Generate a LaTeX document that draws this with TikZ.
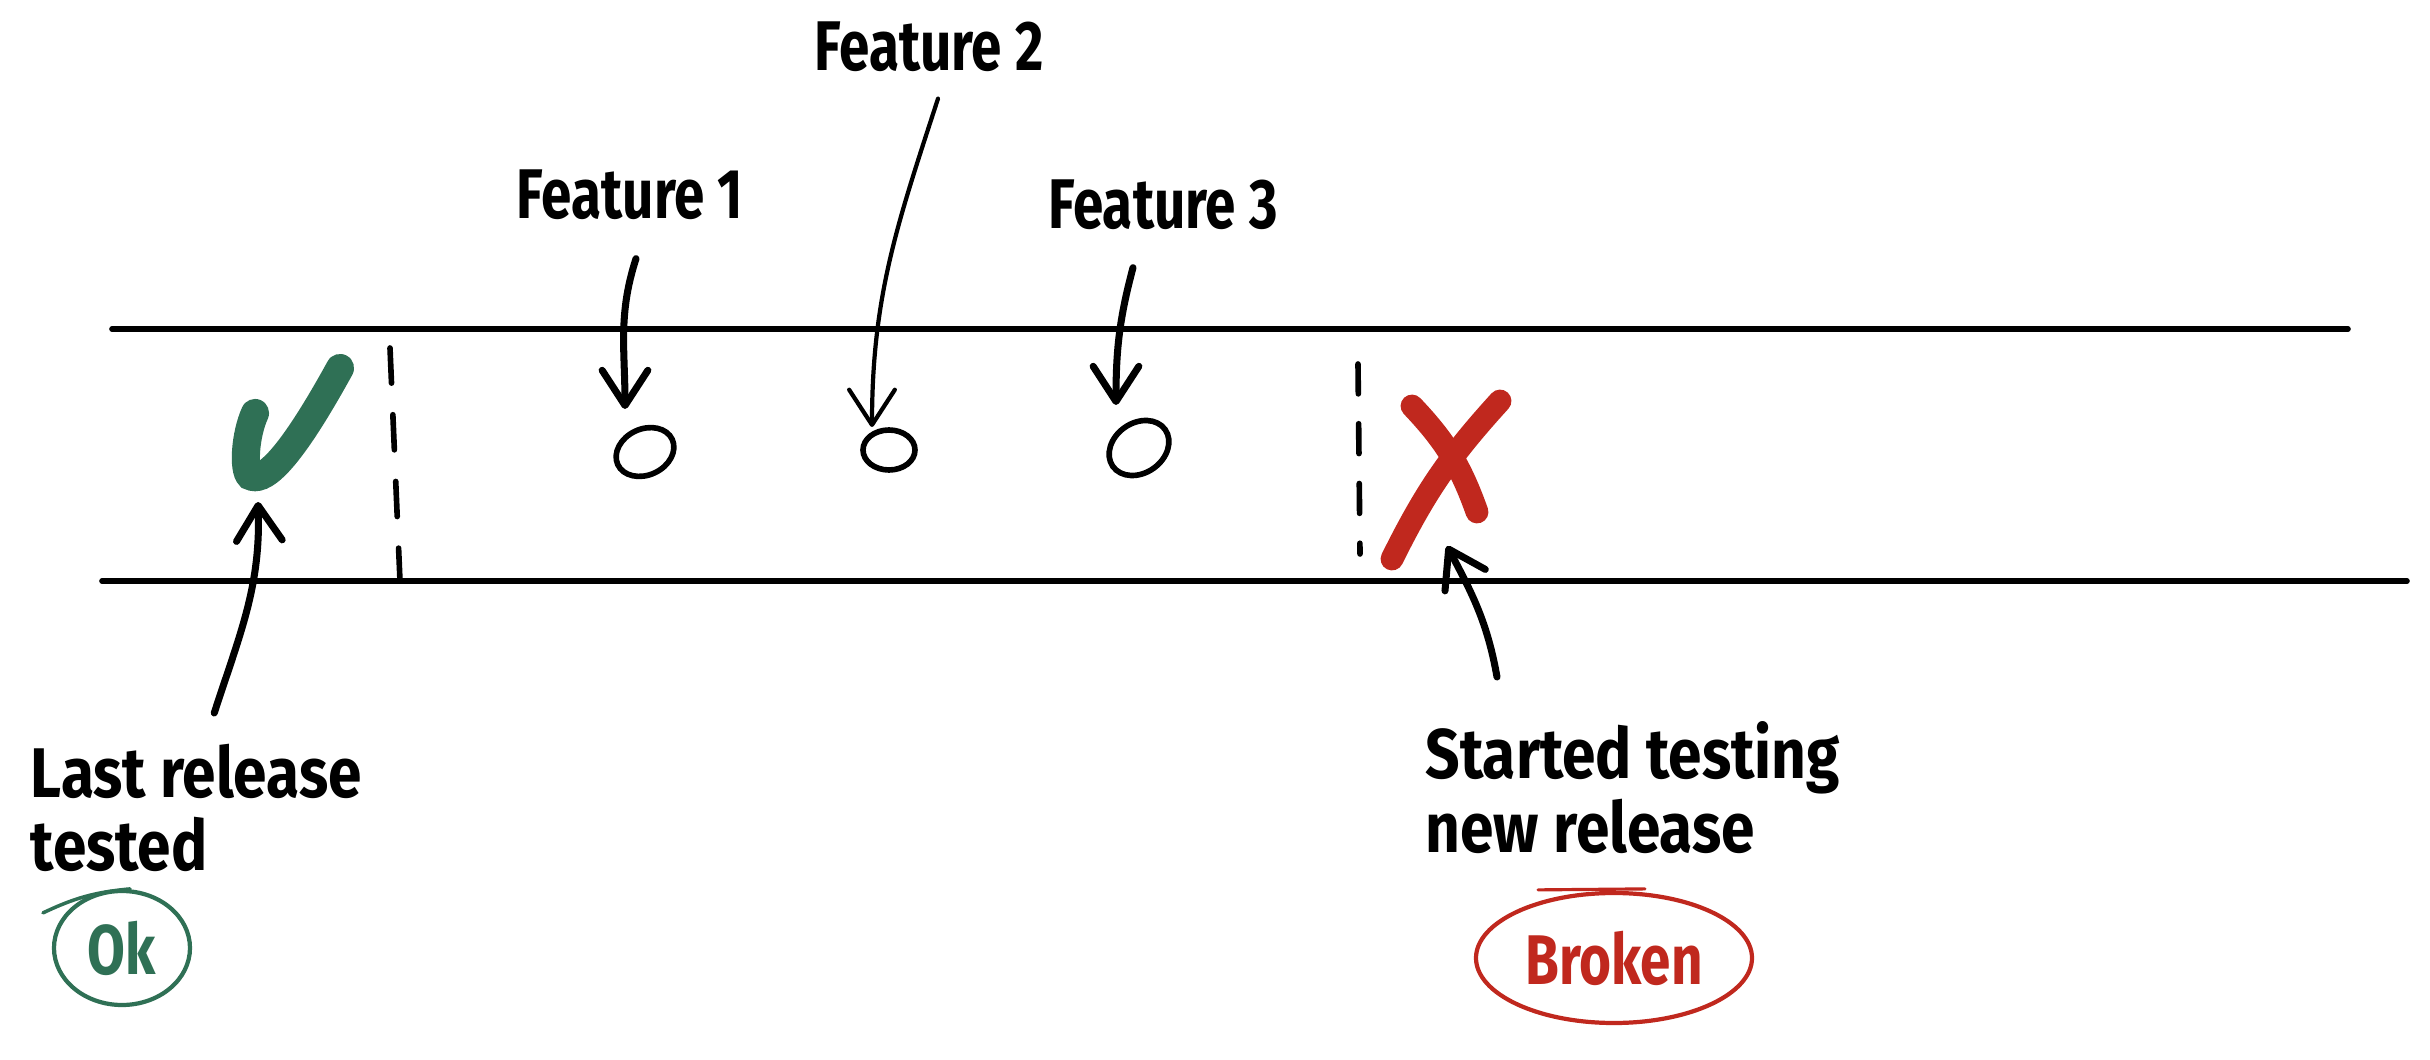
\documentclass[tikz,border=0pt]{standalone}
\usepackage{fontspec}
\usepackage{xcolor}
\usepackage{tikz}
\usetikzlibrary{arrows.meta,positioning,shapes,calc}
\newfontfamily\handfont[FakeStretch=0.86]{Fira Sans}
\newfontfamily\narrowhand[FakeStretch=0.78]{Fira Sans}
\definecolor{okgreen}{RGB}{47,112,85}
\definecolor{badred}{RGB}{192,40,30}
\tikzset{
  % timeline rails
  rail/.style={line width=1.6pt, line cap=round},
  % release boundary
  cut/.style={line width=1.6pt, dash pattern=on 10pt off 9pt, line cap=round},
  % text labels
  note/.style={font=\handfont\bfseries\fontsize{20}{21}\selectfont, inner sep=0pt, align=left},
  featlab/.style={font=\narrowhand\bfseries\fontsize{20}{21}\selectfont, inner sep=0pt},
  % feature commits
  commit/.style={draw, ellipse, line width=1.6pt, inner sep=0pt},
  % arrows
  arr/.style={-{Straight Barb[length=10pt,width=13pt,round]}, line width=2pt, line cap=round},
  thinarr/.style={arr, line width=1.2pt},
  % status marks
  okmark/.style={okgreen, line width=8pt, line cap=round},
  badmark/.style={badred, line width=6.5pt, line cap=round},
  stamp/.style={draw, ellipse, line width=1.2pt, inner sep=0pt,
    font=\narrowhand\bfseries\fontsize{20}{21}\selectfont},
}
\begin{document}
\begin{tikzpicture}
    \useasboundingbox (0,0) rectangle (24.3,-10.6);

    % Timeline
    \draw[rail] (1.12,-3.29) -- (23.48,-3.29);
    \draw[rail] (1.02,-5.81) -- (24.07,-5.81);

    % Release boundaries
    \draw[cut] (3.90,-3.48) -- (4.00,-5.81);
    \draw[cut, dash pattern=on 8.5pt off 8.5pt] (13.58,-3.64) -- (13.60,-5.54);

    % Last good release
    \draw[okmark] (2.55,-4.13) .. controls (2.45,-4.35) and (2.43,-4.70) .. (2.50,-4.76)
        .. controls (2.62,-4.82) and (2.85,-4.68) .. (3.40,-3.68);
    \coordinate (okspot) at (2.58,-5.02);

    % Broken release
    \draw[badmark] (14.12,-4.06) to[bend left=12] (14.77,-5.12);
    \draw[badmark] (15.00,-4.01) to[bend right=8] (13.92,-5.59);
    \coordinate (badspot) at (14.47,-5.46);

    % Features
    \node[commit, minimum width=0.60cm, minimum height=0.46cm, rotate=25] (f1) at (6.45,-4.52) {};
    \node[commit, minimum width=0.52cm, minimum height=0.40cm] (f2) at (8.89,-4.50) {};
    \node[commit, minimum width=0.64cm, minimum height=0.50cm, rotate=35] (f3) at (11.39,-4.48) {};

    \node[featlab] (f1lab) at (6.30,-1.95) {Feature 1};
    \node[featlab] (f2lab) at (9.29,-0.47) {Feature 2};
    \node[featlab] (f3lab) at (11.63,-2.05) {Feature 3};

    \draw[arr] ($(f1lab.south)+(0.06,-0.38)$) to[out=-108,in=90] ($(f1)+(-0.20,0.43)$);
    \draw[thinarr] ($(f2lab.south)+(0.09,-0.26)$) to[out=-108,in=90] ($(f2)+(-0.17,0.23)$);
    \draw[arr] ($(f3lab.south)+(-0.30,-0.37)$) to[out=-105,in=90] ($(f3)+(-0.23,0.43)$);

    % Notes
    \node[note, anchor=north west] (lastrel) at (0.30,-7.43) {Last release\\tested};
    \node[note, anchor=north west] (started) at (14.25,-7.21) {Started testing\\new release};

    \draw[arr] ($(lastrel.north)+(0.18,0.30)$) to[out=72,in=-88] (okspot);
    \draw[arr] ($(started.north west)+(0.72,0.44)$) to[out=100,in=-62] (badspot);

    % Verdicts
    \node[stamp, okgreen, minimum width=1.36cm, minimum height=1.14cm] (okstamp) at (1.22,-9.48) {Ok};
    \draw[okgreen, line width=1pt, line cap=round] ($(okstamp.north)+(0.08,0)$) to[bend right=10] ++(-0.87,-0.24);
    \node[stamp, badred, minimum width=2.76cm, minimum height=1.30cm] (badstamp) at (16.14,-9.58) {Broken};
    \draw[badred, line width=0.9pt, line cap=round] ($(badstamp.north)+(-0.76,0.01)$) -- ++(1.07,0.01);
\end{tikzpicture}
\end{document}
